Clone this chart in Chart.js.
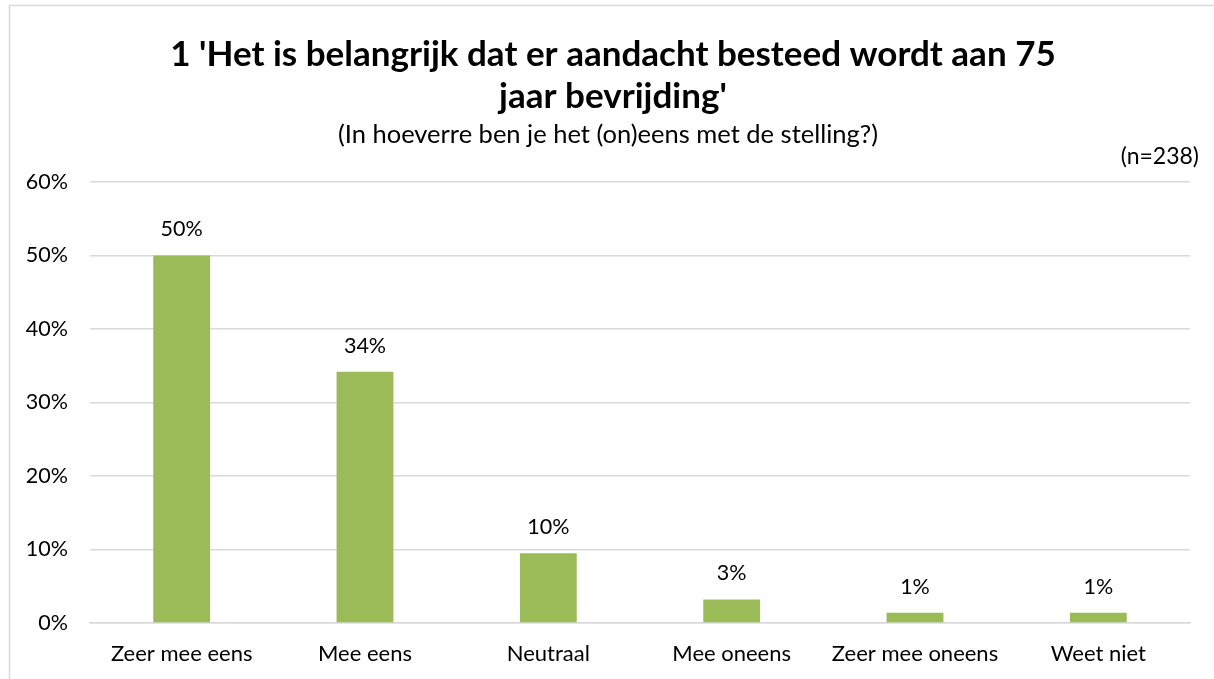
<!DOCTYPE html>
<html>
<head>
<meta charset="utf-8">
<script src="https://cdn.jsdelivr.net/npm/chart.js@4/dist/chart.umd.min.js"></script>
<style>
html,body{margin:0;padding:0;background:#fff;}
#wrap{width:1214px;height:679px;position:relative;}
</style>
</head>
<body>
<div id="wrap"><canvas id="c" width="1214" height="679"></canvas></div>
<script>
const categories = ["Zeer mee eens", "Mee eens", "Neutraal", "Mee oneens", "Zeer mee oneens", "Weet niet"];
const values = [50.0, 34.2, 9.5, 3.2, 1.4, 1.4];
const yTicks = [0, 10, 20, 30, 40, 50, 60];
const titleLines = ["1 'Het is belangrijk dat er aandacht besteed wordt aan 75", "jaar bevrijding'"];
const subtitleText = "(In hoeverre ben je het (on)eens met de stelling?)";
const nText = "(n=238)";

const FONT = "Lato, 'Open Sans', sans-serif";

const decor = {
  id: 'decor',
  beforeDraw(chart) {
    const ctx = chart.ctx;
    ctx.save();
    ctx.fillStyle = '#fff';
    ctx.fillRect(0, 0, chart.width, chart.height);
    ctx.strokeStyle = '#D9D9D9';
    ctx.lineWidth = 1.5;
    ctx.beginPath();
    ctx.moveTo(9.5, 700); ctx.lineTo(9.5, 5.5); ctx.lineTo(1240, 5.5);
    ctx.stroke();
    ctx.restore();
  },
  afterDraw(chart) {
    const ctx = chart.ctx;
    ctx.save();
    ctx.fillStyle = '#000';
    ctx.textAlign = 'center';
    ctx.textBaseline = 'middle';
    ctx.font = "bold 35px " + FONT;
    ctx.fillText(titleLines[0], 613, 55);
    ctx.fillText(titleLines[1], 613, 97);
    ctx.font = "25.5px " + FONT;
    ctx.fillText(subtitleText, 608, 135);
    ctx.font = "23px " + FONT;
    ctx.textAlign = 'right';
    ctx.fillText(nText, 1199, 157);
    // data labels
    const meta = chart.getDatasetMeta(0);
    ctx.textAlign = 'center';
    ctx.textBaseline = 'middle';
    ctx.font = "21.5px " + FONT;
    meta.data.forEach((bar, i) => {
      ctx.fillText(Math.round(values[i]) + '%', bar.x, bar.y - 26);
    });
    ctx.restore();
  }
};

new Chart(document.getElementById('c'), {
  type: 'bar',
  data: {
    labels: categories,
    datasets: [{
      data: values,
      backgroundColor: '#9BBB59',
      borderWidth: 0,
      barPercentage: 0.62,
      categoryPercentage: 0.5
    }]
  },
  options: {
    responsive: false,
    animation: false,
    devicePixelRatio: 1,
    layout: { padding: { top: 182, right: 24, left: 0, bottom: 0 } },
    plugins: { legend: { display: false }, tooltip: { enabled: false }, title: { display: false } },
    scales: {
      x: {
        grid: { display: false, drawTicks: false },
        border: { display: true, color: '#D9D9D9', width: 1.5 },
        ticks: { color: '#000', font: { size: 22, family: FONT }, padding: 18, maxRotation: 0, autoSkip: false },
        afterFit(s) { s.height = 56; }
      },
      y: {
        min: 0, max: 60,
        afterBuildTicks(s) { s.ticks = yTicks.map(v => ({ value: v })); },
        grid: { color: '#D9D9D9', lineWidth: 1.5, drawTicks: false },
        border: { display: false },
        ticks: { color: '#000', font: { size: 21.5, family: FONT }, padding: 22, callback: v => v + '%' },
        afterFit(s) { s.width = 90; }
      }
    }
  },
  plugins: [decor]
});
</script>
</body>
</html>
